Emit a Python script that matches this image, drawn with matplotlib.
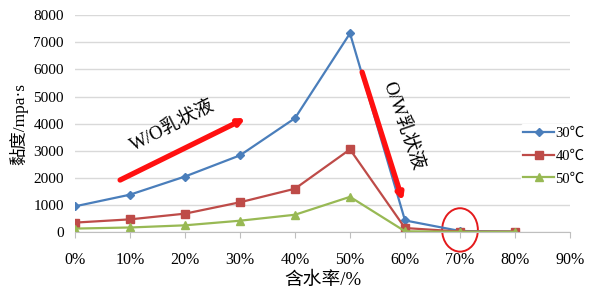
import matplotlib.pyplot as plt
from matplotlib.patches import Ellipse

plt.rcParams["font.family"] = ["Liberation Serif", "Noto Sans CJK SC", "DejaVu Sans"]

WATER_CUT = [0, 10, 20, 30, 40, 50, 60, 70, 80]
X_TICKS = [0, 10, 20, 30, 40, 50, 60, 70, 80, 90]
X_TICK_LABELS = ["0%", "10%", "20%", "30%", "40%", "50%", "60%", "70%", "80%", "90%"]

VISC_30C = [950, 1380, 2050, 2830, 4200, 7330, 430, 40, 20]
VISC_40C = [350, 470, 680, 1100, 1600, 3050, 150, 20, 20]
VISC_50C = [130, 170, 250, 420, 640, 1300, 30, 10, 10]

SERIES = [
    ("30℃", VISC_30C, "#4A7EBB", "D", 4),
    ("40℃", VISC_40C, "#BE4B48", "s", 6),
    ("50℃", VISC_50C, "#98B954", "^", 6),
]

fig = plt.figure(figsize=(6.0, 3.03), dpi=100)
ax = fig.add_axes([0.125, 0.234, 0.825, 0.716])

for label, values, color, marker, size in SERIES:
    ax.plot(WATER_CUT, values, color=color, marker=marker, markersize=size,
            linewidth=1.6, label=label)

ax.set_xlim(0, 90)
ax.set_ylim(0, 8000)
ax.set_xticks(X_TICKS)
ax.set_xticklabels(X_TICK_LABELS, fontsize=11.5)
ax.set_yticks(range(0, 8001, 1000))
ax.tick_params(axis="y", length=0, labelsize=11, pad=8)
ax.tick_params(axis="x", length=4, color="#BFBFBF", pad=10)
ax.grid(axis="y", color="#D9D9D9", linewidth=1)
ax.set_axisbelow(True)
for side in ["left", "right", "top"]:
    ax.spines[side].set_visible(False)
ax.spines["bottom"].set_color("#BFBFBF")
ax.spines["bottom"].set_clip_on(False)

ax.set_xlabel("含水率/%", fontsize=13.5, labelpad=3)
ax.set_ylabel("黏度/mpa·s", fontsize=12.5, labelpad=4)

# W/O arrow and label
ax.annotate("", xy=(31, 4200), xytext=(8.2, 1920),
            arrowprops=dict(arrowstyle="-|>", color="#FF1010", lw=3.8,
                            mutation_scale=9, shrinkA=0, shrinkB=0))
ax.text(17.8, 3900, "W/O乳状液", rotation=27, fontsize=13.5,
        ha="center", va="center", rotation_mode="anchor")

# O/W arrow and label
ax.annotate("", xy=(59.6, 1150), xytext=(52.2, 5900),
            arrowprops=dict(arrowstyle="-|>", color="#FF1010", lw=3.8,
                            mutation_scale=9, shrinkA=0, shrinkB=0))
ax.text(59.6, 3900, "O/W乳状液", rotation=-71, fontsize=13.5,
        ha="center", va="center", rotation_mode="anchor")

# highlight circle at 70%
ax.add_patch(Ellipse((70, 80), width=6.5, height=1600, fill=False,
                     edgecolor="#E41A1C", linewidth=1.4, clip_on=False))

leg = ax.legend(loc="center left", bbox_to_anchor=(0.9, 0.35), frameon=True,
                fontsize=10.5, handlelength=2.1, borderpad=0.2, labelspacing=0.65,
                handletextpad=0.1, borderaxespad=0)
leg.get_frame().set_edgecolor("none")
leg.get_frame().set_facecolor("white")
leg.get_frame().set_alpha(1)

fig.savefig("out.png", dpi=100)
